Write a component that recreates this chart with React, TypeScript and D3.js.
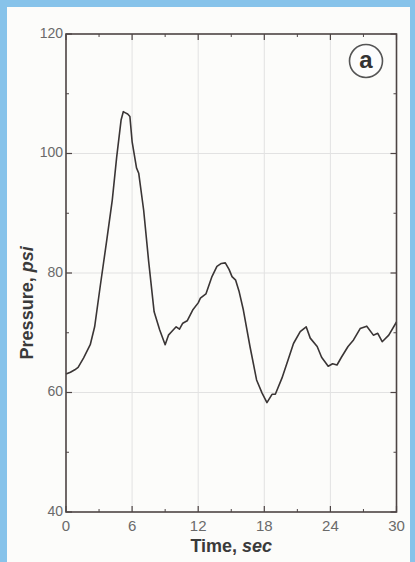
import * as d3 from 'd3';

const W = 415;
const H = 562;
const MARGIN = { top: 34, right: 18, bottom: 50, left: 66 };

// time in seconds
const timeSec = [
  0, 0.4, 0.8, 1.1, 1.6, 2.2, 2.6, 3.1, 3.7, 4.2, 4.6, 5.0, 5.2, 5.4, 5.6, 5.8,
  6.0, 6.4, 6.6, 7.05, 7.5, 8.0, 8.5, 9.0, 9.3, 9.6, 10.0, 10.3, 10.6, 11.0, 11.5,
  12.0, 12.2, 12.7, 13.25, 13.7, 14.1, 14.46, 14.8, 15.07, 15.4, 15.7, 16.1, 16.7,
  17.3, 17.8, 18.24, 18.7, 19.0, 19.6, 20.2, 20.65, 21.26, 21.8, 22.17, 22.8,
  23.2, 23.8, 24.2, 24.6, 25.0, 25.6, 26.1, 26.7, 27.3, 27.9, 28.3, 28.7, 29.3, 30,
];

// pressure in psi
const pressurePsi = [
  63.1, 63.4, 63.8, 64.2, 65.8, 68.0, 71.0, 77.7, 85.5, 92.2, 99.4, 105.6, 107.0, 106.8, 106.6, 106.2,
  102.0, 97.6, 96.7, 90.5, 82.0, 73.5, 70.5, 68.0, 69.6, 70.2, 71.0, 70.6, 71.6, 72.0, 73.8,
  75.0, 75.8, 76.5, 79.4, 81.1, 81.6, 81.7, 80.6, 79.4, 78.8, 77.0, 73.8, 67.7,
  62.1, 59.9, 58.3, 59.7, 59.7, 62.4, 65.7, 68.2, 70.2, 71.0, 69.1, 67.7,
  65.9, 64.4, 64.8, 64.6, 65.9, 67.7, 68.8, 70.7, 71.1, 69.6, 69.9, 68.5, 69.6, 71.8,
];

const yMajor = [40, 60, 80, 100, 120];
const yMinor = [50, 70, 90, 110];
const xMajor = [0, 6, 12, 18, 24, 30];
const xMinor = [3, 9, 15, 21, 27];

const FONT = 'Arial, "Liberation Sans", Helvetica, sans-serif';
const FRAME = '#4d4444';

const App = () => {
  const boundsWidth = W - MARGIN.left - MARGIN.right;
  const boundsHeight = H - MARGIN.top - MARGIN.bottom - 0;
  const plotH = 512 - MARGIN.top;

  const xScale = d3.scaleLinear().domain([0, 30]).range([0, boundsWidth - 0.5]);
  const yScale = d3.scaleLinear().domain([40, 120]).range([plotH, 0]);

  const points = timeSec.map((t, i) => [t, pressurePsi[i]] as [number, number]);
  const line = d3
    .line<[number, number]>()
    .x(d => xScale(d[0]))
    .y(d => yScale(d[1]))
    .curve(d3.curveLinear);

  const pw = xScale(30);

  return (
    <svg
      width={W}
      height={H}
      style={{ position: 'absolute', left: 0, top: 0 }}
      data-h={boundsHeight}
    >
      <rect x={0} y={0} width={W} height={H} fill="#87c3ea" />
      <rect x={7} y={7} width={403} height={H - 7} fill="#fcfcfa" />
      <g transform={`translate(${MARGIN.left},${MARGIN.top})`}>
        {/* grid */}
        {xMajor.slice(1, -1).map(t => (
          <line
            key={`gx${t}`}
            x1={xScale(t)}
            x2={xScale(t)}
            y1={0}
            y2={plotH}
            stroke="#e2e2e2"
            strokeWidth={1}
          />
        ))}
        {yMajor.slice(1, -1).map(v => (
          <line
            key={`gy${v}`}
            x1={0}
            x2={pw}
            y1={yScale(v)}
            y2={yScale(v)}
            stroke="#e2e2e2"
            strokeWidth={1}
          />
        ))}

        {/* ticks, all four sides, pointing in */}
        {yMajor.map(v => (
          <g key={`ty${v}`}>
            <line x1={0} x2={6} y1={yScale(v)} y2={yScale(v)} stroke={FRAME} strokeWidth={1.2} />
            <line x1={pw} x2={pw - 6} y1={yScale(v)} y2={yScale(v)} stroke={FRAME} strokeWidth={1.2} />
          </g>
        ))}
        {yMinor.map(v => (
          <g key={`tym${v}`}>
            <line x1={0} x2={3} y1={yScale(v)} y2={yScale(v)} stroke={FRAME} strokeWidth={1} />
            <line x1={pw} x2={pw - 3} y1={yScale(v)} y2={yScale(v)} stroke={FRAME} strokeWidth={1} />
          </g>
        ))}
        {xMajor.map(t => (
          <g key={`tx${t}`}>
            <line x1={xScale(t)} x2={xScale(t)} y1={plotH} y2={plotH - 6} stroke={FRAME} strokeWidth={1.2} />
            <line x1={xScale(t)} x2={xScale(t)} y1={0} y2={6} stroke={FRAME} strokeWidth={1.2} />
          </g>
        ))}
        {xMinor.map(t => (
          <g key={`txm${t}`}>
            <line x1={xScale(t)} x2={xScale(t)} y1={plotH} y2={plotH - 3} stroke={FRAME} strokeWidth={1} />
            <line x1={xScale(t)} x2={xScale(t)} y1={0} y2={3} stroke={FRAME} strokeWidth={1} />
          </g>
        ))}

        {/* data trace */}
        <path
          d={line(points) ?? ''}
          fill="none"
          stroke="#3a3535"
          strokeWidth={1.6}
          strokeLinejoin="round"
        />

        {/* frame */}
        <rect x={0} y={0} width={pw} height={plotH} fill="none" stroke={FRAME} strokeWidth={1.6} />

        {/* tick labels */}
        {yMajor.map(v => (
          <text
            key={`ly${v}`}
            x={-3}
            y={yScale(v)}
            textAnchor="end"
            dominantBaseline="middle"
            fontFamily={FONT}
            fontSize={14}
            fill="#6a6a6a"
          >
            {v}
          </text>
        ))}
        {xMajor.map(t => (
          <text
            key={`lx${t}`}
            x={xScale(t)}
            y={plotH + 15}
            textAnchor="middle"
            dominantBaseline="middle"
            fontFamily={FONT}
            fontSize={15}
            fill="#6a6a6a"
          >
            {t}
          </text>
        ))}

        {/* axis titles */}
        <text
          x={pw / 2}
          y={plotH + 35}
          textAnchor="middle"
          dominantBaseline="middle"
          fontFamily={FONT}
          fontSize={18}
          fontWeight="bold"
          fill="#3a3a3a"
        >
          Time, <tspan fontStyle="italic">sec</tspan>
        </text>
        <text
          transform={`translate(${-38},${yScale(75)}) rotate(-90)`}
          textAnchor="middle"
          dominantBaseline="middle"
          fontFamily={FONT}
          fontSize={18}
          fontWeight="bold"
          fill="#3a3a3a"
        >
          Pressure, <tspan fontStyle="italic">psi</tspan>
        </text>

        {/* panel label */}
        <circle cx={300} cy={27} r={16.5} fill="#fdfdfd" stroke="#555" strokeWidth={1.6} />
        <text
          x={300}
          y={28}
          textAnchor="middle"
          dominantBaseline="middle"
          fontFamily={FONT}
          fontSize={24}
          fontWeight="bold"
          fill="#333"
        >
          a
        </text>
      </g>
    </svg>
  );
};

export default App;
